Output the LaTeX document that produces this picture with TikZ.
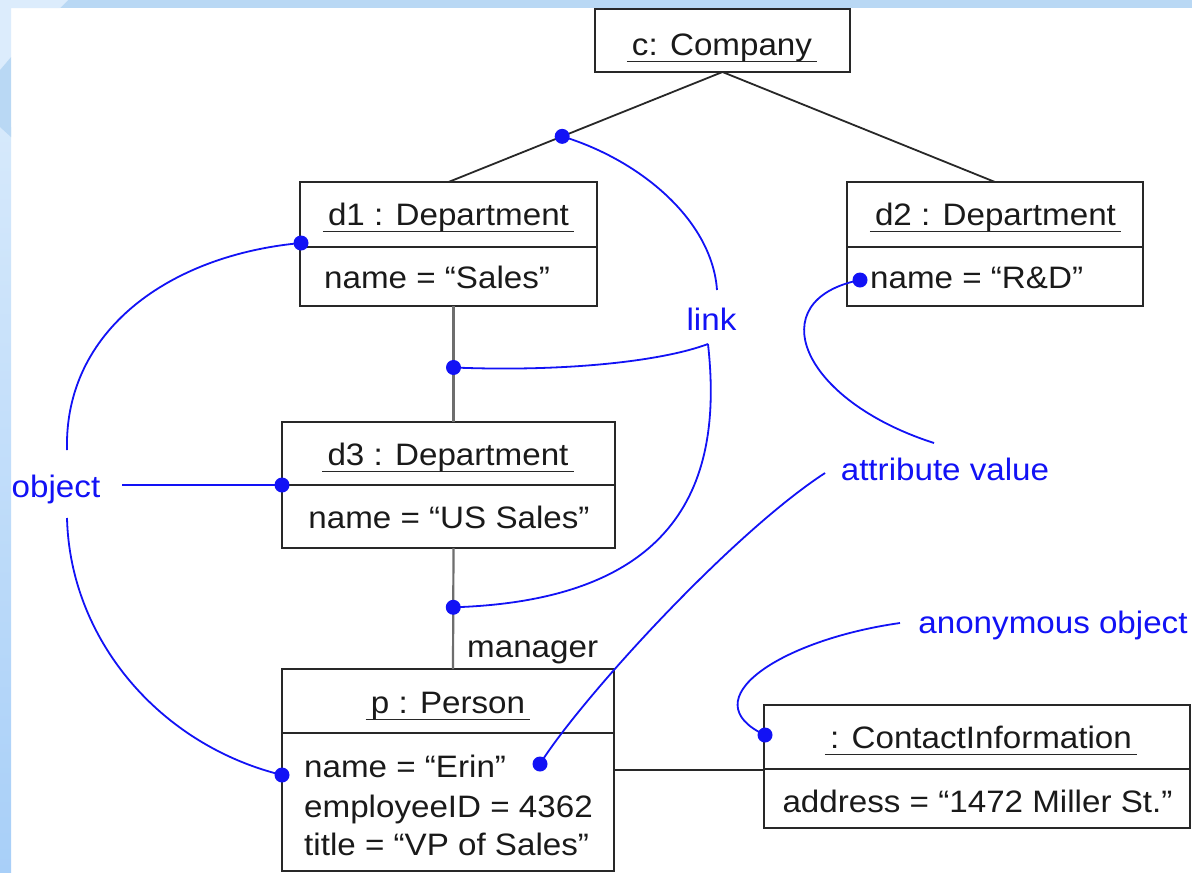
\documentclass[tikz,border=0pt]{standalone}
\usepackage{fontspec}
\setmainfont{Liberation Sans}[FakeStretch=1.07]
\usetikzlibrary{calc}
\definecolor{ink}{RGB}{26,26,26}
\definecolor{edge}{RGB}{40,40,40}
\definecolor{linkgray}{RGB}{110,110,110}
\definecolor{note}{RGB}{18,18,245}
\definecolor{stripblue}{RGB}{185,216,244}
\definecolor{stripa}{RGB}{220,236,252}
\definecolor{stripb}{RGB}{214,233,251}
\definecolor{stripc}{RGB}{168,207,248}
\begin{document}
\begin{tikzpicture}[x=1pt,y=-1pt,
  font=\fontsize{31}{37}\selectfont,
  objbox/.style={draw=edge,line width=1.8pt,inner sep=0pt,outer sep=0pt,anchor=north west},
  divider/.style={draw=edge,line width=1.8pt},
  titletext/.style={anchor=base,inner xsep=5pt,inner ysep=0pt,text=ink},
  attr/.style={anchor=base west,inner sep=0pt,text=ink},
  attrc/.style={anchor=base,inner sep=0pt,text=ink},
  uline/.style={draw=edge,line width=1.4pt},
  link/.style={draw=edge,line width=1.8pt},
  graylink/.style={draw=linkgray,line width=2.2pt},
  dot/.style={circle,fill=note,inner sep=0pt,minimum size=15pt},
  noteline/.style={draw=note,line width=1.8pt},
  notetext/.style={anchor=base,inner sep=0pt,text=note}]
\useasboundingbox (0,0) rectangle (1192,873);

% slide frame
\fill[white] (0,0) rectangle (1192,873);
\fill[stripblue] (0,0) rectangle (1192,8);
\shade[top color=stripb,bottom color=stripc] (0,127) rectangle (11,873);
\fill[stripa] (0,0) -- (68,0) -- (60,8) -- (11,8) -- (11,57) -- (0,70) -- cycle;
\fill[stripblue] (0,70) -- (11,57) -- (11,137) -- (0,127) -- cycle;

% object boxes
\node[objbox,minimum width=255pt,minimum height=63pt] (c) at (595,9) {};
\node[objbox,minimum width=297pt,minimum height=124pt] (d1) at (300,182) {};
\node[objbox,minimum width=296pt,minimum height=124pt] (d2) at (847,182) {};
\node[objbox,minimum width=333pt,minimum height=126pt] (d3) at (282,422) {};
\node[objbox,minimum width=332pt,minimum height=202pt] (p) at (282,669) {};
\node[objbox,minimum width=426pt,minimum height=123pt] (ci) at (764,705) {};

% compartment dividers
\draw[divider] ([yshift=-65pt]d1.north west) -- ([yshift=-65pt]d1.north east);
\draw[divider] ([yshift=-65pt]d2.north west) -- ([yshift=-65pt]d2.north east);
\draw[divider] ([yshift=-63pt]d3.north west) -- ([yshift=-63pt]d3.north east);
\draw[divider] ([yshift=-64pt]p.north west) -- ([yshift=-64pt]p.north east);
\draw[divider] ([yshift=-64pt]ci.north west) -- ([yshift=-64pt]ci.north east);

% object names
\node[titletext] (tc) at (722,55) {c: Company};
\node[titletext] (t1) at (448.5,225) {d1 : Department};
\node[titletext] (t2) at (995.5,225) {d2 : Department};
\node[titletext] (t3) at (448,465) {d3 : Department};
\node[titletext] (tp) at (448,713) {p : Person};
\node[titletext] (tci) at (981,748) {: ContactInformation};
\foreach \t in {tc,t1,t2,t3,tp,tci}
  \draw[uline] ([yshift=-6.5pt]\t.base west) -- ([yshift=-6.5pt]\t.base east);

% attribute values
\node[attr] (a1) at (324,288) {name = “Sales”};
\node[attr] (a2) at (870,288) {name = “R\&D”};
\node[attrc] (a3) at (449,528) {name = “US Sales”};
\node[attr] (ap1) at (304,777) {name = “Erin”};
\node[attr] (ap2) at (304,817) {employeeID = 4362};
\node[attr] (ap3) at (304,855) {title = “VP of Sales”};
\node[attrc] (aci) at (977.5,812) {address = “1472 Miller St.”};

% links
\draw[link] (c.south) -- (d1.north);
\draw[link] (c.south) -- (d2.north);
\draw[graylink] ([xshift=5pt]d1.south) -- ([xshift=5pt]d3.north);
\draw[graylink] ([xshift=5pt]d3.south) -- ([xshift=5pt]p.north);
\draw[link] (p.east) -- (p.east -| ci.west);
\node[attr] (mgr) at (467,657) {manager};

% annotation labels
\node[notetext] (lk) at (711.5,330) {link};
\node[notetext] (ob) at (56,497) {object};
\node[notetext] (av) at (945,480) {attribute value};
\node[notetext] (an) at (1053,633) {anonymous object};

% annotation end points
\coordinate (lkTop) at (717,290);
\coordinate (lkFork) at (708,344);
\coordinate (obUp) at (67,450);
\coordinate (obRight) at (122,485);
\coordinate (obDown) at (67,518);
\coordinate (avUp) at (934,443);
\coordinate (avLeft) at (825,473);
\coordinate (anLeft) at (900,623);

% marker dots
\node[dot] (m1) at ($(c.south)!0.585!(d1.north)$) {};
\node[dot] (m2) at ($([xshift=5pt]d1.south)!0.53!([xshift=5pt]d3.north)$) {};
\node[dot] (m3) at ($([xshift=5pt]d3.south)!0.49!([xshift=5pt]p.north)$) {};
\node[dot] (o1) at (301,243) {};
\node[dot] (o2) at (282,485) {};
\node[dot] (o3) at (282,775) {};
\node[dot] (v1) at (860,280) {};
\node[dot] (v2) at (540,764) {};
\node[dot] (n1) at (765,735) {};

% annotation leaders
\draw[noteline] (m1.center) .. controls (640,160) and (712,220) .. (lkTop);
\draw[noteline] (lkFork) .. controls (660,362) and (560,372) .. (m2.center);
\draw[noteline] (lkFork) .. controls (722,470) and (690,600) .. (m3.center);
\draw[noteline] (obUp) .. controls (64,330) and (170,255) .. (o1.center);
\draw[noteline] (obRight) -- (o2.center);
\draw[noteline] (obDown) .. controls (70,640) and (160,745) .. (o3.center);
\draw[noteline] (avUp) .. controls (800,400) and (760,300) .. (v1.center);
\draw[noteline] (avLeft) .. controls (730,535) and (580,700) .. (v2.center);
\draw[noteline] (anLeft) .. controls (780,640) and (690,700) .. (n1.center);
\end{tikzpicture}
\end{document}
